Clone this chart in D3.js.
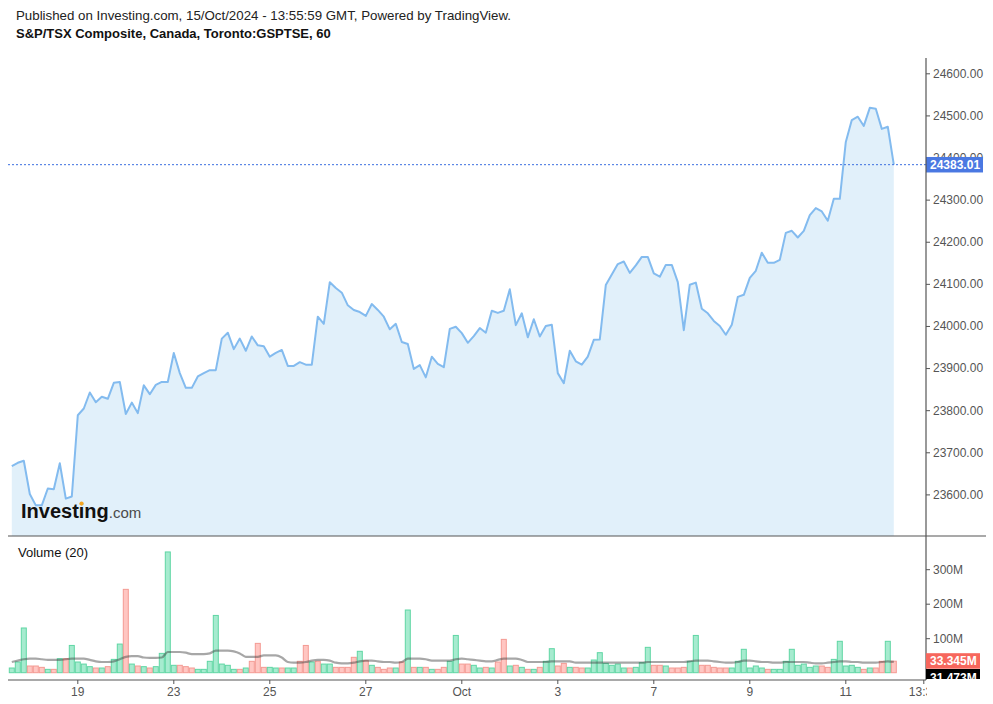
<!DOCTYPE html>
<html><head><meta charset="utf-8">
<script src="https://cdn.jsdelivr.net/npm/d3@7"></script>
<style>body{margin:0;background:#fff}svg{display:block;font-family:"Liberation Sans",Arial,sans-serif}</style>
</head><body><svg id="c" width="993" height="704"></svg>
<script>
// ---- data ----
const prices = [
23667,23675,23680,23601,23574,23574,23614,23612,23674,23590,
23595,23788,23804,23842,23819,23832,23827,23865,23867,23791,
23818,23793,23859,23838,23860,23867,23867,23936,23888,23853,
23853,23880,23888,23895,23895,23970,23984,23945,23970,23941,
23975,23954,23952,23927,23936,23943,23905,23905,23914,23908,
23908,24022,24005,24104,24090,24079,24049,24038,24033,24024,
24052,24038,24022,23992,24005,23962,23957,23898,23907,23878,
23927,23910,23902,23993,23998,23983,23960,23976,23995,23984,
24036,24031,24036,24087,24002,24030,23973,24016,23975,24000,
24003,23888,23864,23941,23916,23908,23927,23967,23968,24097,
24122,24147,24153,24126,24144,24164,24164,24125,24117,24145,
24145,24104,23990,24098,24103,24041,24030,24012,24000,23979,
24003,24069,24074,24114,24131,24174,24150,24150,24157,24221,
24226,24210,24226,24263,24280,24272,24250,24302,24302,24437,
24489,24497,24475,24518,24516,24468,24473,24383.01];

// volumes in millions
const volumes = [
13.6,31,129.6,19.4,19.4,15.5,9.7,9.7,40.6,40.6,
79,31,25,17.5,13.6,13.6,17.5,38.6,83,241.6,
25,19.4,17.5,13.6,17.5,56,350,21.4,21.4,17.5,
13.6,9.7,9.7,33,166,25,21.4,9.7,9.7,13.6,
33,85,15.5,15.5,13.6,13.6,13.6,13.6,33,79,
31,33,25,25,15.5,15.5,15.5,44.6,62,34.8,
21.4,15.5,9.7,13.6,13.6,31,181.7,15.5,15.5,15.5,
9.7,9.7,15.5,33,108,25,25,21.4,13.6,15.5,
13.6,31,96.6,19.4,21.4,15.5,9.7,9.7,15.5,33,
69.6,19.4,27,15.5,15.5,13.6,13.6,36.8,58,27,
21.4,25,13.6,13.6,15.5,29,73.5,21.4,21.4,19.4,
13.6,13.6,15.5,33,108,21.4,21.4,15.5,13.6,13.6,
13.6,33,67.8,13.6,19.4,13.6,9.7,9.7,9.7,33,
67.8,21.4,25,15.5,19.4,19.4,15.5,38.6,91,19.4,
21.4,15.5,9.7,13.6,13.6,33,91,33.345];

// g = rising bar, r = falling bar
const volDir = ("gggrrrgrgr"+"ggggrgrggr"+"grgrggggrr"+"rgggggggrg"+"rrrggrggrr"+
  "grggrrrrgr"+"grrrgrgrgr"+"grrggrrggr"+"grrgrgrgrg"+"grrgrrgggg"+
  "gggrgggrrg"+"rrrggrrrrr"+"ggggggrggg"+"gggggrrggg"+"ggrgrrgr").split("");

// Volume (20) moving average, millions
const volMA = [
31,35,39,41,41,39,37,37,37,39,
41,41,41,37,33,31,31,33,39,46,
48,48,44,43,43,44,60,60,60,58,
54,54,54,56,64,64,64,62,56,46,
46,46,50,50,50,44,31,29,29,31,
35,37,37,35,29,27,27,29,33,35,
35,33,31,31,29,31,41,41,41,39,
35,35,35,35,39,41,39,37,35,33,
33,37,41,41,41,37,31,31,31,31,
33,33,33,33,29,29,29,29,29,29,
29,29,29,29,29,29,31,31,31,31,
31,31,31,33,35,35,35,33,31,29,
29,31,35,35,33,31,31,29,29,31,
31,31,31,29,27,27,29,31,33,33,
31,31,29,29,29,31,33,31.473];

const xTickLabels = ["19","23","25","27","Oct","3","7","9","11","13:30"];
const xTickIndex  = [11,27,43,59,75,91,107,123,139,152];
const priceTicks = [23600,23700,23800,23900,24000,24100,24200,24300,24400,24500,24600];
const volTicks = [100,200,300];
const lastPrice = 24383.01;
const lastVolume = 33.345;
const lastMA = 31.473;

// ---- drawing ----
const svg = d3.select("#c");
const L = 8, R = 926, PT = 58, PB = 536, VT = 537, VB = 680;
const x = d3.scaleLinear().domain([0, prices.length - 1]).range([11.8, 11.8 + 6 * (prices.length - 1)]);
const y = d3.scaleLinear().domain([23600, 24600]).range([494.4, 73.3]);
const yv = d3.scaleLinear().domain([0, 300]).range([672.7, 569.2]);

const defs = svg.append("defs");
defs.append("clipPath").attr("id","cp").append("rect").attr("x",L).attr("y",PT).attr("width",R-L).attr("height",PB-PT);
defs.append("clipPath").attr("id","cv").append("rect").attr("x",L).attr("y",VT).attr("width",R-L).attr("height",VB-VT);
defs.append("clipPath").attr("id","cx").append("rect").attr("x",0).attr("y",VB).attr("width",R+1).attr("height",30);
defs.append("clipPath").attr("id","cl").append("rect").attr("x",R).attr("y",VT).attr("width",80).attr("height",VB-VT-1);

// header
svg.append("text").attr("x",16).attr("y",20).attr("font-size",13.3).attr("fill","#222")
  .text("Published on Investing.com, 15/Oct/2024 - 13:55:59 GMT, Powered by TradingView.");
svg.append("text").attr("x",16).attr("y",38).attr("font-size",13).attr("font-weight","bold").attr("fill","#111")
  .text("S&P/TSX Composite, Canada, Toronto:GSPTSE, 60");

// price pane
const gp = svg.append("g").attr("clip-path","url(#cp)");
gp.append("path").datum(prices)
  .attr("d", d3.area().x((d,i)=>x(i)).y0(PB).y1(d=>y(d)))
  .attr("fill","#e1f0fa");

// logo
const logo = svg.append("text").attr("x",21).attr("y",518).attr("fill","#111");
const logoMain = logo.append("tspan").attr("font-size",20).attr("font-weight","bold").text("Investing");
logo.append("tspan").attr("font-size",15).attr("fill","#4a4a4a").text(".com");
const ext = logoMain.node().getExtentOfChar(6);
svg.append("circle").attr("cx",ext.x + ext.width/2).attr("cy",503.6).attr("r",2.1).attr("fill","#f5a623");

gp.append("path").datum(prices)
  .attr("d", d3.line().x((d,i)=>x(i)).y(d=>y(d)))
  .attr("fill","none").attr("stroke","#83bbef").attr("stroke-width",2).attr("stroke-linejoin","round");
gp.append("line").attr("x1",L).attr("x2",R).attr("y1",y(lastPrice)).attr("y2",y(lastPrice))
  .attr("stroke","#3b6fe0").attr("stroke-width",1).attr("stroke-dasharray","2,2");

// price axis
const ga = svg.append("g").attr("transform",`translate(${R},0)`)
  .call(d3.axisRight(y).tickValues(priceTicks).tickFormat(d3.format(".2f")).tickSize(4).tickPadding(3));
ga.select(".domain").remove();
ga.selectAll("line").attr("stroke","#555");
ga.selectAll("text").attr("font-size",12).attr("fill","#555").attr("font-family","Liberation Sans, Arial, sans-serif");

svg.append("rect").attr("x",R).attr("y",y(lastPrice)-7.7).attr("width",57).attr("height",15.5).attr("fill","#4a78e2");
svg.append("text").attr("x",R+4).attr("y",y(lastPrice)+4.3).attr("font-size",12).attr("font-weight","bold")
  .attr("fill","#fff").text(d3.format(".2f")(lastPrice));

// frame lines
svg.append("line").attr("x1",L).attr("x2",986).attr("y1",PB).attr("y2",PB).attr("stroke","#555").attr("stroke-width",1.2);
svg.append("line").attr("x1",R).attr("x2",R).attr("y1",PT).attr("y2",VB).attr("stroke","#555").attr("stroke-width",1.2);

// volume pane
const gv = svg.append("g").attr("clip-path","url(#cv)");
gv.selectAll("rect.vb").data(volumes).enter().append("rect")
  .attr("x",(d,i)=>x(i)-2.5).attr("width",5)
  .attr("y",d=>yv(d)).attr("height",d=>yv(0)-yv(d))
  .attr("fill",(d,i)=>volDir[i]==="g"?"#a6ebcf":"#ffc6c2")
  .attr("stroke",(d,i)=>volDir[i]==="g"?"#5fd6a4":"#f49a93").attr("stroke-width",1);
gv.append("path").datum(volMA)
  .attr("d", d3.line().x((d,i)=>x(i)).y(d=>yv(d)).curve(d3.curveMonotoneX))
  .attr("fill","none").attr("stroke","rgba(60,60,60,0.45)").attr("stroke-width",2.2);

svg.append("text").attr("x",18).attr("y",557).attr("font-size",13).attr("fill","#111").text("Volume (20)");

const gva = svg.append("g").attr("transform",`translate(${R},0)`)
  .call(d3.axisRight(yv).tickValues(volTicks).tickFormat(d=>d+"M").tickSize(4).tickPadding(3));
gva.select(".domain").remove();
gva.selectAll("line").attr("stroke","#555");
gva.selectAll("text").attr("font-size",12).attr("fill","#555").attr("font-family","Liberation Sans, Arial, sans-serif");

const gl = svg.append("g").attr("clip-path","url(#cl)");
gl.append("rect").attr("x",R).attr("y",yv(lastVolume)-8).attr("width",54).attr("height",15.5).attr("fill","#f7675d");
gl.append("text").attr("x",R+4).attr("y",yv(lastVolume)+4).attr("font-size",12).attr("font-weight","bold").attr("fill","#fff")
  .text(lastVolume.toFixed(3)+"M");
gl.append("rect").attr("x",R).attr("y",669).attr("width",54).attr("height",15).attr("fill","#000");
gl.append("text").attr("x",R+4).attr("y",681.5).attr("font-size",12).attr("font-weight","bold").attr("fill","#fff")
  .text(lastMA.toFixed(3)+"M");

// x axis
svg.append("line").attr("x1",L).attr("x2",R).attr("y1",VB).attr("y2",VB).attr("stroke","#555").attr("stroke-width",1.2);
const gx = svg.append("g").attr("clip-path","url(#cx)");
xTickIndex.forEach((t,k)=>{
  gx.append("line").attr("x1",x(t)).attr("x2",x(t)).attr("y1",VB).attr("y2",VB+4).attr("stroke","#555");
  gx.append("text").attr("x",x(t)).attr("y",695.5).attr("text-anchor","middle").attr("font-size",12).attr("fill","#555")
    .text(xTickLabels[k]);
});
</script></body></html>
